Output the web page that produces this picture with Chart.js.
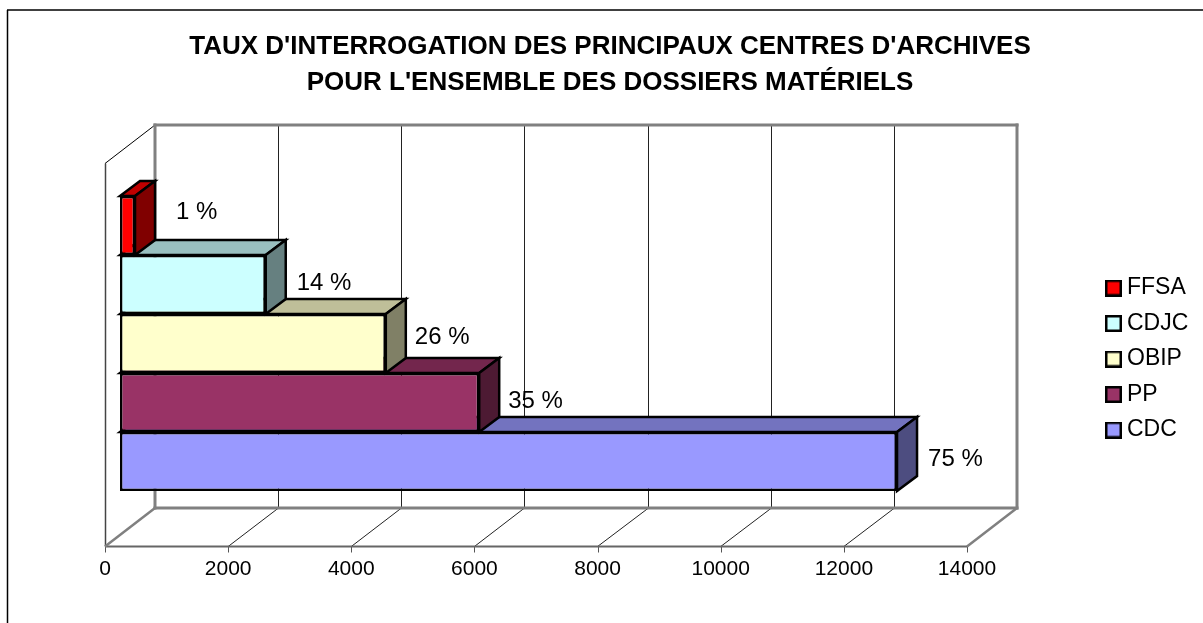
<!DOCTYPE html>
<html>
<head>
<meta charset="utf-8">
<title>Taux d'interrogation</title>
<script src="https://cdn.jsdelivr.net/npm/chart.js@4"></script>
<style>
  html, body { margin: 0; padding: 0; background: #fff; }
  #wrap { position: relative; width: 1203px; height: 623px; }
</style>
</head>
<body>
<div id="wrap"><canvas id="c" width="1203" height="623"></canvas></div>
<script>
const seriesNames = ['FFSA', 'CDJC', 'OBIP', 'PP', 'CDC'];
const seriesValues = [244, 2367, 4317, 5834, 12620];
const percentLabels = ['1 %', '14 %', '26 %', '35 %', '75 %'];
const seriesColors = ['#FF0000', '#CCFFFF', '#FFFFCC', '#993366', '#9999FF'];
const titleLines = ["TAUX D'INTERROGATION DES PRINCIPAUX CENTRES D'ARCHIVES", "POUR L'ENSEMBLE DES DOSSIERS MATÉRIELS"];

// label placement by hand in the original, offsets from the bar end
const labelShift = [[41, -13], [31, -1], [29, -6], [29, -1], [31, -2]];

const FONT = '"Liberation Sans", Arial, sans-serif';
const BAR_DX = 20, BAR_DY = 15;      // depth of one bar
const FRONT_DX = 15, FRONT_DY = 11.5; // bar plane -> front of floor
const BACK_DX = 35, BACK_DY = 27;     // bar plane -> back wall

function shade(hex, f) {
  const n = parseInt(hex.slice(1), 16);
  const c = [n >> 16, (n >> 8) & 255, n & 255].map(v => Math.round(v * f));
  return `rgb(${c[0]},${c[1]},${c[2]})`;
}

function line(ctx, x1, y1, x2, y2, color, width) {
  ctx.beginPath();
  ctx.moveTo(x1, y1);
  ctx.lineTo(x2, y2);
  ctx.strokeStyle = color;
  ctx.lineWidth = width;
  ctx.stroke();
}

function face(ctx, pts, fill) {
  ctx.beginPath();
  pts.forEach((p, i) => i ? ctx.lineTo(p[0], p[1]) : ctx.moveTo(p[0], p[1]));
  ctx.closePath();
  ctx.fillStyle = fill;
  ctx.fill();
  ctx.strokeStyle = '#000';
  ctx.lineWidth = 2.5;
  ctx.lineJoin = 'miter';
  ctx.stroke();
}

// legend swatch, larger than the gap the legend leaves before its text
function swatch(color) {
  const cv = document.createElement('canvas');
  cv.width = cv.height = 17;
  const g = cv.getContext('2d');
  g.fillStyle = color;
  g.fillRect(1, 1, 15, 15);
  g.strokeStyle = '#000';
  g.lineWidth = 2.5;
  g.strokeRect(1.25, 1.25, 14.5, 14.5);
  return cv;
}

const frame3d = {
  id: 'frame3d',
  beforeDraw(chart) {
    const ctx = chart.ctx;
    ctx.save();
    line(ctx, 7, 10, 1203, 10, '#000', 1.5);
    line(ctx, 7.5, 10, 7.5, 623, '#000', 1.5);
    ctx.restore();
  },
  afterLayout(chart) {
    // legend sits right of the plot, away from the layout boxes
    const lg = chart.legend;
    lg.left = 1099;
    lg.right = 1203;
    lg.top = 264;
    lg.bottom = 466;
  },
  beforeDatasetsDraw(chart) {
    const ctx = chart.ctx;
    const { top, bottom } = chart.chartArea;
    const xs = chart.scales.x;
    const gray = '#808080';
    const fy = bottom + FRONT_DY, by = bottom - BACK_DY;
    const ty = top + FRONT_DY, tb = 125;
    const px = v => xs.getPixelForValue(v);
    const ticks = xs.ticks.map(t => t.value);
    const first = ticks[0], last = ticks[ticks.length - 1];

    ctx.save();
    // side wall
    line(ctx, px(first) - FRONT_DX + .5, ty, px(first) - FRONT_DX + .5, fy, '#444', 1.5);
    line(ctx, px(first) - FRONT_DX, ty, px(first) + BACK_DX, tb, '#000', 1);
    // grid lines on back wall and floor
    ticks.slice(1, -1).forEach(v => {
      const gx = Math.round(px(v) + BACK_DX) + .5;
      line(ctx, gx, tb, gx, by, '#222', 1);
      line(ctx, px(v) - FRONT_DX, fy, gx, by, '#222', 1);
    });
    // ticks under the floor
    ticks.forEach(v => {
      const tx = Math.round(px(v) - FRONT_DX) + .5;
      line(ctx, tx, fy, tx, fy + 6, '#555', 1);
    });
    // thick grey edges
    ctx.lineCap = 'square';
    line(ctx, px(first) + BACK_DX, tb, px(last) + BACK_DX, tb, gray, 3);
    line(ctx, px(first) + BACK_DX, tb, px(first) + BACK_DX, by, gray, 3);
    line(ctx, px(last) + BACK_DX, tb, px(last) + BACK_DX, by, gray, 3);
    line(ctx, px(first) + BACK_DX, by, px(last) + BACK_DX, by, gray, 3);
    ctx.lineCap = 'butt';
    line(ctx, px(first) - FRONT_DX, fy, px(last) - FRONT_DX, fy, '#666', 2);
    line(ctx, px(first) - FRONT_DX, fy, px(first) + BACK_DX, by, gray, 2.5);
    line(ctx, px(last) - FRONT_DX, fy, px(last) + BACK_DX, by, gray, 2.5);

    // top and side faces of the bars, lowest bar first
    for (let i = seriesNames.length - 1; i >= 0; i--) {
      const bar = chart.getDatasetMeta(i).data[0];
      const y1 = bar.y - bar.height / 2, y2 = bar.y + bar.height / 2;
      const x0 = bar.base, x1 = bar.x;
      face(ctx, [[x0, y1], [x0 + BAR_DX, y1 - BAR_DY], [x1 + BAR_DX, y1 - BAR_DY], [x1, y1]], shade(seriesColors[i], 0.75));
      face(ctx, [[x1, y1], [x1 + BAR_DX, y1 - BAR_DY], [x1 + BAR_DX, y2 - BAR_DY], [x1, y2]], shade(seriesColors[i], 0.5));
    }
    ctx.restore();
  },
  afterDatasetsDraw(chart) {
    const ctx = chart.ctx;
    ctx.save();
    ctx.font = '24px ' + FONT;
    ctx.fillStyle = '#000';
    ctx.textAlign = 'left';
    ctx.textBaseline = 'middle';
    percentLabels.forEach((txt, i) => {
      const bar = chart.getDatasetMeta(i).data[0];
      ctx.fillText(txt, bar.x + labelShift[i][0], bar.y + labelShift[i][1]);
    });
    ctx.restore();
  }
};

new Chart(document.getElementById('c'), {
  type: 'bar',
  data: {
    labels: [''],
    datasets: seriesNames.map((name, i) => ({
      label: name,
      data: [seriesValues[i]],
      backgroundColor: seriesColors[i],
      borderColor: '#000',
      borderWidth: 2.5,
      borderSkipped: false
    }))
  },
  options: {
    indexAxis: 'y',
    responsive: false,
    animation: false,
    layout: { padding: { left: 17, right: 0, top: 0, bottom: 0 } },
    datasets: { bar: { categoryPercentage: 295 / 383, barPercentage: 1 } },
    scales: {
      x: {
        min: 0,
        max: 14000,
        position: 'bottom',
        afterFit(s) { s.height = 88; },
        grid: { display: false },
        border: { display: false },
        ticks: {
          stepSize: 2000,
          padding: 14,
          labelOffset: -15,
          maxRotation: 0,
          autoSkip: false,
          color: '#000',
          font: { family: FONT, size: 21 },
          callback: v => String(v)
        }
      },
      y: {
        position: 'left',
        afterFit(s) { s.width = 103; },
        grid: { display: false },
        border: { display: false },
        ticks: { display: false }
      },
      spacer: {
        type: 'linear',
        axis: 'y',
        position: 'right',
        afterFit(s) { s.width = 221; },
        grid: { display: false },
        border: { display: false },
        ticks: { display: false }
      }
    },
    plugins: {
      title: {
        display: true,
        text: titleLines,
        color: '#000',
        padding: { top: 29, bottom: 51 },
        font: { family: FONT, size: 26, weight: 'bold', lineHeight: '36px' }
      },
      legend: {
        position: 'chartArea',
        align: 'start',
        labels: {
          usePointStyle: true,
          pointStyleWidth: 4,
          boxHeight: 17,
          padding: 12.5,
          color: '#000',
          font: { family: FONT, size: 23 },
          generateLabels(chart) {
            return Chart.defaults.plugins.legend.labels.generateLabels(chart)
              .map((item, i) => ({ ...item, pointStyle: swatch(seriesColors[i]) }));
          }
        }
      },
      tooltip: { enabled: false }
    }
  },
  plugins: [frame3d]
});
</script>
</body>
</html>
